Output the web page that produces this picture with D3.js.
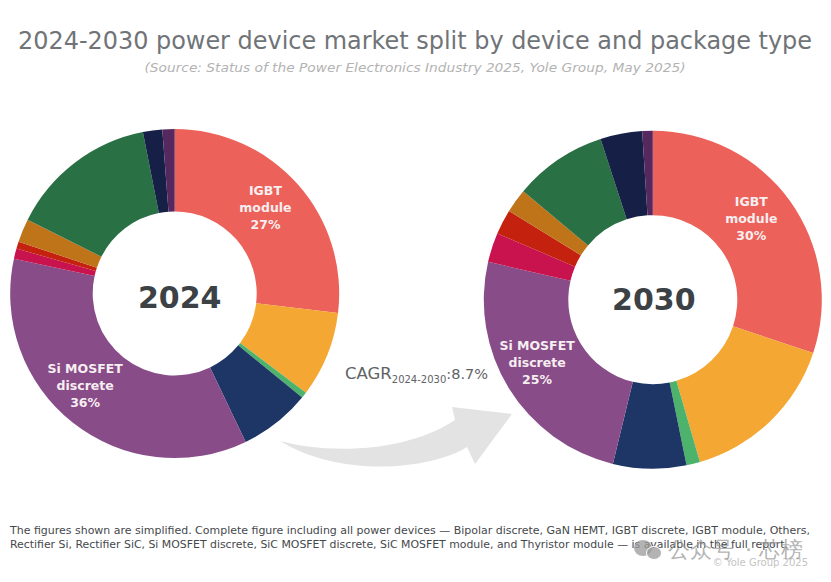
<!DOCTYPE html>
<html>
<head>
<meta charset="utf-8">
<title>Power device market split</title>
<script src="https://cdn.jsdelivr.net/npm/d3@7/dist/d3.min.js"></script>
<style>
  html, body { margin: 0; padding: 0; background: #fff; }
  svg { display: block; }
  text { font-family: "DejaVu Sans", sans-serif; }
</style>
</head>
<body>
<div id="chart"></div>
<script>
// slices run clockwise from 12 o'clock (%)
const segments = ["IGBT module", "Thyristor module", "SiC MOSFET module", "SiC MOSFET discrete", "Si MOSFET discrete",
  "GaN HEMT", "Rectifier SiC", "Rectifier Si", "IGBT discrete", "Bipolar discrete", "Others"];
const values2024 = [26.9, 8.4, 0.6, 7.0, 35.5, 1.0, 0.7, 2.3, 14.5, 1.9, 1.2];
const values2030 = [30.1, 15.4, 1.3, 7.0, 24.8, 2.8, 2.4, 2.3, 8.9, 4.0, 1.0];
const colors = ["#ec6159", "#f5a733", "#4db26b", "#1d3666", "#884c88", "#c8134f", "#c4220f", "#bf741a", "#2a7045", "#161f45", "#55285f"];
const labels2024 = [["IGBT", "module", "27%"], ["Si MOSFET", "discrete", "36%"]];
const labels2030 = [["IGBT", "module", "30%"], ["Si MOSFET", "discrete", "25%"]];

const width = 831, height = 582;
const svg = d3.select("#chart").append("svg").attr("width", width).attr("height", height);

const color = d3.scaleOrdinal().domain(segments).range(colors);
const pie = d3.pie().sort(null);

function drawDonut(o) {
  const g = svg.append("g").attr("transform", `translate(${o.cx},${o.cy})`);
  const arc = d3.arc().innerRadius(o.inner).outerRadius(o.outer);
  const arcs = pie(o.values);

  g.selectAll("path")
    .data(arcs)
    .join("path")
    .attr("d", arc)
    .attr("fill", (d, i) => color(segments[i]));

  // only the two biggest segments carry a label
  const labelArc = d3.arc().innerRadius(o.outer * 0.77).outerRadius(o.outer * 0.77);
  [arcs[0], arcs[4]].forEach((a, n) => {
    const [x, y] = labelArc.centroid(a);
    const t = g.append("text")
      .attr("text-anchor", "middle")
      .attr("fill", "#f6eef0")
      .attr("font-size", 12.5)
      .attr("font-weight", 700);
    o.labels[n].forEach((line, k) => {
      t.append("tspan")
        .attr("x", x + o.nudge[n][0])
        .attr("y", y - 12 + k * 17 + o.nudge[n][1])
        .text(line);
    });
  });

  g.append("text")
    .attr("text-anchor", "middle")
    .attr("x", o.yearX)
    .attr("y", o.yearY)
    .attr("fill", "#3c4145")
    .attr("font-size", 30)
    .attr("font-weight", 700)
    .text(o.year);
}

drawDonut({ year: "2024", values: values2024, labels: labels2024, cx: 174.7, cy: 293.5, outer: 164.5, inner: 82,
  nudge: [[-4, -2], [-11, -8]], yearX: 5, yearY: 14 });
drawDonut({ year: "2030", values: values2030, labels: labels2030, cx: 652.8, cy: 299.7, outer: 169, inner: 84.5,
  nudge: [[-7, -6], [-5, -6]], yearX: 1, yearY: 10 });

// titre
svg.append("text").attr("x", 415).attr("y", 49).attr("text-anchor", "middle")
  .attr("fill", "#707478").attr("font-size", 24)
  .attr("textLength", 794).attr("lengthAdjust", "spacingAndGlyphs")
  .text("2024-2030 power device market split by device and package type");
svg.append("text").attr("x", 415).attr("y", 71.5).attr("text-anchor", "middle")
  .attr("fill", "#b3b3b3").attr("font-size", 12.5).attr("font-style", "italic")
  .attr("textLength", 541).attr("lengthAdjust", "spacingAndGlyphs")
  .text("(Source: Status of the Power Electronics Industry 2025, Yole Group, May 2025)");

// fleche CAGR
svg.append("path")
  .attr("d", "M280,441 C320,452 400,456 455,420 L452,407 L512,414 L475,464 L467,447 C430,470 340,478 280,441 Z")
  .attr("fill", "#e3e3e3");

const cagr = svg.append("text").attr("x", 345).attr("y", 379).attr("fill", "#5f6366").attr("font-size", 14.5);
cagr.append("tspan").attr("font-size", 16.5).text("CAGR");
cagr.append("tspan").attr("font-size", 10).attr("dy", 4).text("2024-2030");
cagr.append("tspan").attr("dy", -4).text(":8.7%");

// pied de page
const footer = [
  "The figures shown are simplified. Complete figure including all power devices — Bipolar discrete, GaN HEMT, IGBT discrete, IGBT module, Others,",
  "Rectifier Si, Rectifier SiC, Si MOSFET discrete, SiC MOSFET discrete, SiC MOSFET module, and Thyristor module — is available in the full report."
];
const footerWidths = [800, 778];
footer.forEach((line, i) => {
  svg.append("text").attr("x", 10).attr("y", 534 + i * 14)
    .attr("fill", "#45484b").attr("font-size", 10)
    .attr("font-family", "Roboto, sans-serif")
    .attr("textLength", footerWidths[i]).attr("lengthAdjust", "spacingAndGlyphs")
    .text(line);
});
svg.append("text").attr("x", 808).attr("y", 566).attr("text-anchor", "end")
  .attr("fill", "#c4c4c4").attr("font-size", 10)
  .attr("font-family", "Roboto, sans-serif")
  .text("© Yole Group 2025");

// filigrane
const mark = svg.append("g").attr("fill", "#9a9a9a").attr("fill-opacity", 0.75);
mark.append("ellipse").attr("cx", 643).attr("cy", 548).attr("rx", 9).attr("ry", 8);
mark.append("ellipse").attr("cx", 654).attr("cy", 553).attr("rx", 7.5).attr("ry", 6.5).attr("stroke", "#fff");
mark.append("text").attr("x", 668).attr("y", 557)
  .attr("font-family", "'Noto Sans CJK SC', sans-serif").attr("font-size", 22)
  .text("公众号");
mark.append("text").attr("x", 803).attr("y", 557).attr("text-anchor", "end")
  .attr("font-family", "'Noto Sans CJK SC', sans-serif").attr("font-size", 22)
  .text("· 芯榜");
</script>
</body>
</html>
